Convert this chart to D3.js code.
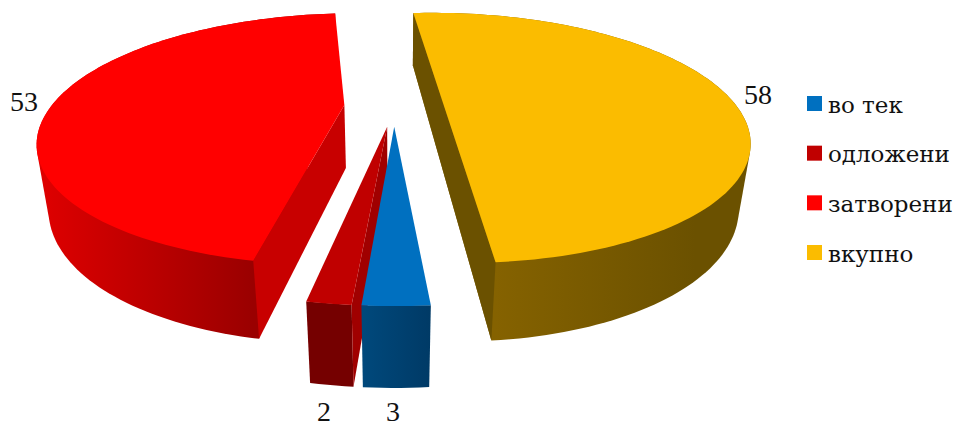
<!DOCTYPE html>
<html>
<head>
<meta charset="utf-8">
<script src="https://cdn.jsdelivr.net/npm/d3@7"></script>
<style>
body { margin: 0; background: #fff; }
svg { display: block; }
text { font-family: "DejaVu Serif", serif; fill: #111; }
.value { font-family: "Liberation Serif", serif; }
</style>
</head>
<body>
<div id="chart"></div>
<script>
const categories = ["во тек", "одложени", "затворени", "вкупно"]
const values = [3, 2, 53, 58]
const topColors = ["#0070c0", "#c00000", "#ff0000", "#fbbc00"]
const cutColors = ["#004a7c", "#a00000", "#c80000", "#6b5100"]
const wallLight = ["#00497c", "#750000", "#e00000", "#856200"]
const wallDark = ["#003a66", "#750000", "#9a0000", "#6b5100"]

const width = 954
const height = 423

// perspective of the tilted disc
const cx = 394, cy = 106
const rx = 293, ry = 117
const k = 0.27      // how quickly things grow toward the viewer
const thick = 65    // pie height
const shrink = 0.032 // lower rim is further from the camera
const explode = 0.17
const startDeg = 175.1

const svg = d3.select("#chart").append("svg")
    .attr("width", width)
    .attr("height", height)
    .attr("viewBox", [0, 0, width, height])
const defs = svg.append("defs")

// u, v are disc coords (v toward viewer), low = 1 for the bottom rim
const project = (u, v, low) => {
    const w = 1 - k * v + (low ? shrink : 0)
    return [cx + rx * u / w, cy + (ry * v + (low ? thick : 0)) / w]
}

const pie = d3.pie().sort(null).startAngle(Math.PI * startDeg / 180).endAngle(Math.PI * (startDeg + 360) / 180)
const arcs = pie(values)
const line = d3.line()

const layers = svg.append("g")
// back to front
const order = [3, 2, 1, 0]

order.forEach(i => {
    const a = arcs[i]
    const mid = (a.startAngle + a.endAngle) / 2
    const ox = explode * Math.sin(mid)
    const oy = -explode * Math.cos(mid)
    const n = Math.max(4, Math.ceil((a.endAngle - a.startAngle) * 40))
    const angles = d3.range(n + 1).map(t => a.startAngle + (a.endAngle - a.startAngle) * t / n)
    const rim = low => angles.map(t => project(ox + Math.sin(t), oy - Math.cos(t), low))
    const apex = low => project(ox, oy, low)
    const top = rim(false), bottom = rim(true)
    const g = layers.append("g")

    // outer wall with a sideways shade, light end first
    const xs = d3.extent(top, d => d[0])
    const shade = i === 2 ? [xs[0], top[0][0]] : i === 3 ? [top[n][0], top[n][0] + 200] : xs
    const grad = defs.append("linearGradient")
        .attr("id", "wall" + i)
        .attr("gradientUnits", "userSpaceOnUse")
        .attr("x1", shade[0]).attr("x2", shade[1])
        .attr("y1", 0).attr("y2", 0)
    grad.append("stop").attr("offset", 0).attr("stop-color", wallLight[i])
    grad.append("stop").attr("offset", 1).attr("stop-color", wallDark[i])

    // hull gives the straight tangent edge down the sides
    g.append("path")
        .attr("d", line(d3.polygonHull(top.concat(bottom))) + "Z")
        .attr("fill", `url(#wall${i})`)

    // cut faces, the one that looks to the right for both red slices
    if (i === 1 || i === 2) g.append("path")
        .attr("d", line([top[0], apex(false), apex(true), bottom[0]]) + "Z")
        .attr("fill", cutColors[i])
    // half pie, so both cuts make one flat side
    if (i === 3) g.append("path")
        .attr("d", line([top[0], top[n], bottom[n], bottom[0]]) + "Z")
        .attr("fill", cutColors[i])

    g.append("path")
        .attr("d", line([apex(false)].concat(top)) + "Z")
        .attr("fill", topColors[i])
})

// data labels
const labelX = [393, 324, 24, 758]
const labelY = [421, 421, 111, 104]
svg.append("g")
    .selectAll("text")
    .data(values)
    .join("text")
    .attr("class", "value")
    .attr("x", (d, i) => labelX[i])
    .attr("y", (d, i) => labelY[i])
    .attr("text-anchor", "middle")
    .attr("font-size", 28)
    .text(d => d)

// legend
const legendY = d3.scalePoint().domain(categories).range([103.5, 252.5])
const legend = svg.append("g")
    .selectAll("g")
    .data(categories)
    .join("g")
    .attr("transform", d => `translate(807,${legendY(d)})`)
legend.append("rect")
    .attr("x", 0).attr("y", -7.5)
    .attr("width", 15).attr("height", 15)
    .attr("fill", (d, i) => topColors[i])
legend.append("text")
    .attr("x", 21).attr("y", 9)
    .attr("font-size", 23)
    .text(d => d)
</script>
</body>
</html>
